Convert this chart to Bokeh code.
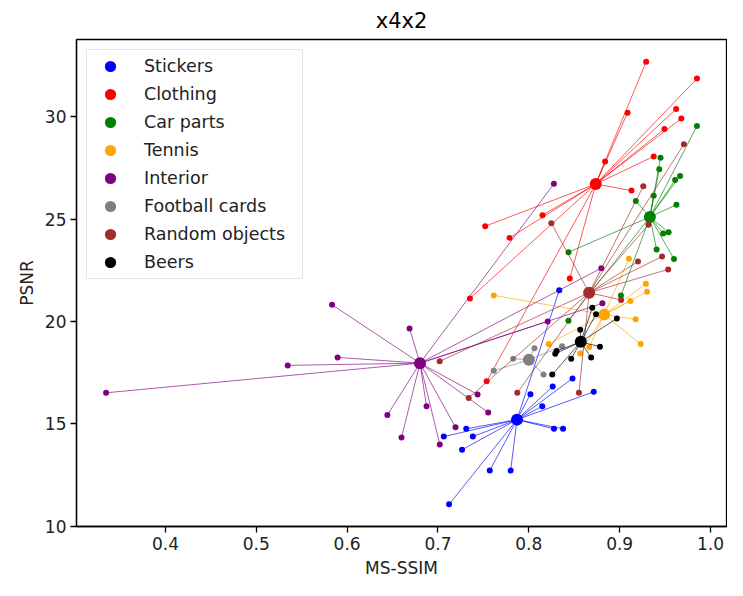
from bokeh.plotting import figure
from bokeh.models import Range1d, FixedTicker, Legend, LegendItem, NumeralTickFormatter
from bokeh.embed import file_html
from bokeh.resources import INLINE

names = ["Stickers", "Clothing", "Car parts", "Tennis", "Interior",
         "Football cards", "Random objects", "Beers"]
colors = ["#0000ff", "#ff0000", "#008000", "#ffa500", "#800080",
          "#808080", "#a52a2a", "#000000"]

# group centers (MS-SSIM, PSNR)
center_x = [0.787, 0.8737, 0.9333, 0.883, 0.6802, 0.8001, 0.8664, 0.8572]
center_y = [15.20, 26.71, 25.10, 20.33, 17.96, 18.12, 21.40, 19.00]

stickers_x = [0.8335, 0.8481, 0.8263, 0.8018, 0.8715, 0.8148, 0.7311, 0.7064,
              0.7384, 0.7265, 0.8277, 0.8377, 0.757, 0.780, 0.7122]
stickers_y = [21.52, 17.21, 16.82, 16.44, 16.56, 15.85, 14.75, 14.37,
              14.37, 13.73, 14.75, 14.75, 12.71, 12.71, 11.06]

clothing_x = [0.9292, 0.9851, 0.9087, 0.9622, 0.9679, 0.9493, 0.884, 0.9375,
              0.913, 0.8151, 0.752, 0.7788, 0.8451, 0.7352, 0.7536]
clothing_y = [32.69, 31.86, 30.19, 30.38, 29.91, 29.40, 27.81, 28.06,
              26.39, 25.19, 24.65, 24.08, 22.10, 21.12, 17.07]

carparts_x = [0.9851, 0.945, 0.9436, 0.9665, 0.9611, 0.9375, 0.9178, 0.9625,
              0.9479, 0.9539, 0.9407, 0.9598, 0.8437, 0.9014, 0.8436]
carparts_y = [29.55, 28.0, 27.43, 27.10, 26.91, 26.14, 25.88, 25.70,
              24.29, 24.35, 23.51, 23.05, 23.38, 21.26, 20.03]

tennis_x = [0.9102, 0.9289, 0.9302, 0.9118, 0.9176, 0.9231, 0.7614, 0.8218,
            0.8665, 0.8565]
tennis_y = [23.06, 21.84, 21.45, 21.0, 20.10, 18.89, 21.27, 18.90,
            18.75, 18.43]

interior_x = [0.8276, 0.8798, 0.881, 0.8208, 0.5834, 0.6687, 0.5895, 0.5346,
              0.3346, 0.7436, 0.7553, 0.6443, 0.6874, 0.7193, 0.6599, 0.702]
interior_y = [26.72, 22.60, 20.88, 20.0, 20.81, 19.65, 18.24, 17.85,
              16.51, 16.43, 15.55, 15.42, 15.85, 14.83, 14.33, 13.99]

football_x = [0.8062, 0.8162, 0.7828, 0.7614, 0.8366]
football_y = [18.69, 17.40, 18.18, 17.59, 18.78]

random_x = [0.9707, 0.926, 0.8248, 0.9317, 0.9467, 0.9202, 0.9534, 0.9016,
            0.7019, 0.7338, 0.7873, 0.8552]
random_y = [28.65, 26.6, 24.8, 24.72, 23.17, 22.93, 22.54, 21.05,
            18.05, 16.26, 16.51, 16.51]

beers_x = [0.8699, 0.874, 0.8969, 0.8566, 0.8783, 0.8686, 0.8467, 0.8306,
           0.8291, 0.8258]
beers_y = [20.67, 20.35, 20.14, 19.59, 18.76, 18.23, 18.18, 18.55,
           18.42, 17.40]

groups_x = [stickers_x, clothing_x, carparts_x, tennis_x, interior_x,
            football_x, random_x, beers_x]
groups_y = [stickers_y, clothing_y, carparts_y, tennis_y, interior_y,
            football_y, random_y, beers_y]

x_ticks = [0.4, 0.5, 0.6, 0.7, 0.8, 0.9, 1.0]
y_ticks = [10, 15, 20, 25, 30]

# matplotlib-like 5% margins
all_x = [v for g in groups_x for v in g] + center_x
all_y = [v for g in groups_y for v in g] + center_y
dx = max(all_x) - min(all_x)
dy = max(all_y) - min(all_y)

FONT = "DejaVu Sans"

p = figure(width=727, height=580, output_backend="svg", toolbar_location=None,
           x_range=Range1d(min(all_x) - 0.05 * dx, max(all_x) + 0.05 * dx),
           y_range=Range1d(min(all_y) - 0.05 * dy, max(all_y) + 0.05 * dy),
           title="x4x2", min_border_left=76, min_border_right=1,
           min_border_top=39, min_border_bottom=50)

p.background_fill_color = "white"
p.border_fill_color = "white"
p.outline_line_color = "black"
p.outline_line_width = 1.3
p.outline_line_alpha = 1.0
p.grid.visible = False

p.title.text_font = FONT
p.title.text_font_size = "21px"
p.title.text_font_style = "normal"
p.title.align = "center"
p.title.standoff = 13
p.title.text_color = "black"

p.xaxis.axis_label = "MS-SSIM"
p.yaxis.axis_label = "PSNR"
p.xaxis.ticker = FixedTicker(ticks=x_ticks)
p.yaxis.ticker = FixedTicker(ticks=y_ticks)
p.xaxis.formatter = NumeralTickFormatter(format="0.0")
for ax in (p.xaxis[0], p.yaxis[0]):
    ax.major_tick_out = 6
    ax.major_tick_in = 0
    ax.minor_tick_out = 0
    ax.minor_tick_in = 0
    ax.major_tick_line_width = 1.3
    ax.axis_line_width = 1.3
    ax.axis_line_color = "black"
    ax.major_tick_line_color = "black"
    ax.major_label_text_font = FONT
    ax.major_label_text_font_size = "17px"
    ax.major_label_text_color = "#222222"
    ax.major_label_standoff = 4
    ax.axis_label_text_font = FONT
    ax.axis_label_text_font_size = "17px"
    ax.axis_label_text_font_style = "normal"
    ax.axis_label_text_color = "#222222"
    ax.axis_label_standoff = 5

legend_items = []
for name, col, cx, cy, xs, ys in zip(names, colors, center_x, center_y,
                                     groups_x, groups_y):
    n = len(xs)
    p.segment(x0=[cx] * n, y0=[cy] * n, x1=xs, y1=ys,
              line_color=col, line_alpha=0.65, line_width=1.0)
    p.scatter(xs, ys, size=6, color=col, line_width=0)
    r = p.scatter([cx], [cy], size=12, color=col, line_width=0)
    legend_items.append(LegendItem(label=name, renderers=[r]))

legend = Legend(items=legend_items, location="top_left")
legend.label_text_font = FONT
legend.label_text_font_size = "17.5px"
legend.label_text_color = "#222222"
legend.glyph_width = 42
legend.glyph_height = 28
legend.label_height = 28
legend.label_width = 156
legend.label_standoff = 13
legend.spacing = 0
legend.padding = 2
legend.margin = 10
legend.border_line_color = "#cccccc"
legend.border_line_width = 1
legend.background_fill_alpha = 0.85
p.add_layout(legend)

open("out.html", "w").write(file_html(p, INLINE))
